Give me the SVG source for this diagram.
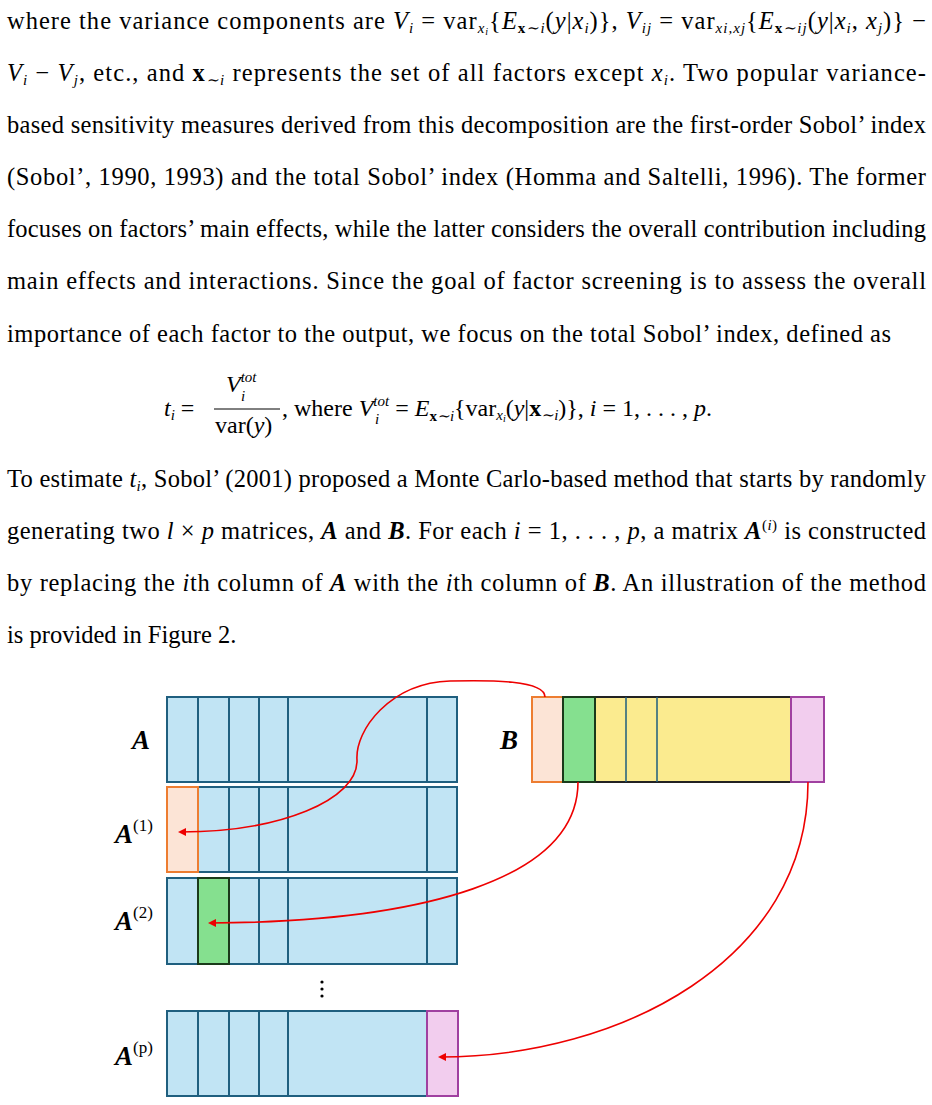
<svg xmlns="http://www.w3.org/2000/svg" width="932" height="1105" viewBox="0 0 932 1105">
<defs>
<style>
.t{font-family:"Liberation Serif",serif;font-size:24.5px;fill:#000}
.e{font-size:24px}
.i{font-style:italic}
.b{font-weight:bold}
.s{font-size:15px}
.bl{fill:#c1e4f4;stroke:#1f5f7f;stroke-width:2}
.ln{stroke:#1f5f7f;stroke-width:2}
.lab{font-family:"Liberation Serif",serif;font-size:27px;font-weight:bold;font-style:italic}
.sup{font-family:"Liberation Serif",serif;font-size:17px}
.arr{fill:none;stroke:#e00;stroke-width:1.6;marker-end:url(#ah)}
</style>
<marker id="ah" markerWidth="8" markerHeight="8" refX="6" refY="4" orient="auto" markerUnits="userSpaceOnUse"><path d="M0,0 L8,4 L0,8 z" fill="#e00"/></marker>
</defs>
<g id="text">
<text class="t" x="7" y="29" textLength="919" lengthAdjust="spacing">where the variance components are <tspan class="i">V</tspan><tspan class="i s" dy="4">i</tspan><tspan dy="-4"> = var</tspan><tspan class="i s" dy="4">x</tspan><tspan class="i" font-size="10" dy="2">i</tspan><tspan dy="-6">{</tspan><tspan class="i">E</tspan><tspan class="s b" dy="4">x</tspan><tspan class="s i">∼i</tspan><tspan dy="-4">(</tspan><tspan class="i">y</tspan><tspan>|</tspan><tspan class="i">x</tspan><tspan class="i s" dy="4">i</tspan><tspan dy="-4">)}, </tspan><tspan class="i">V</tspan><tspan class="i s" dy="4">ij</tspan><tspan dy="-4"> = var</tspan><tspan class="i s" dy="4">xi,xj</tspan><tspan dy="-4">{</tspan><tspan class="i">E</tspan><tspan class="s b" dy="4">x</tspan><tspan class="s i">∼ij</tspan><tspan dy="-4">(</tspan><tspan class="i">y</tspan><tspan>|</tspan><tspan class="i">x</tspan><tspan class="i s" dy="4">i</tspan><tspan dy="-4">, </tspan><tspan class="i">x</tspan><tspan class="i s" dy="4">j</tspan><tspan dy="-4">)} −</tspan></text>
<text class="t" x="7" y="81" textLength="919" lengthAdjust="spacing"><tspan class="i">V</tspan><tspan class="i s" dy="4">i</tspan><tspan dy="-4"> − </tspan><tspan class="i">V</tspan><tspan class="i s" dy="4">j</tspan><tspan dy="-4">, etc., and </tspan><tspan class="b">x</tspan><tspan class="i s" dy="4">∼i</tspan><tspan dy="-4"> represents the set of all factors except </tspan><tspan class="i">x</tspan><tspan class="i s" dy="4">i</tspan><tspan dy="-4">.  Two popular variance-</tspan></text>
<text class="t" x="7" y="133" textLength="919" lengthAdjust="spacing">based sensitivity measures derived from this decomposition are the first-order Sobol’ index</text>
<text class="t" x="7" y="185" textLength="919" lengthAdjust="spacing">(Sobol’, 1990, 1993) and the total Sobol’ index (Homma and Saltelli, 1996).  The former</text>
<text class="t" x="7" y="237" textLength="919" lengthAdjust="spacing">focuses on factors’ main effects, while the latter considers the overall contribution including</text>
<text class="t" x="7" y="289" textLength="919" lengthAdjust="spacing">main effects and interactions.  Since the goal of factor screening is to assess the overall</text>
<text class="t" x="7" y="342" textLength="884" lengthAdjust="spacing">importance of each factor to the output, we focus on the total Sobol’ index, defined as</text>
<text class="t e" x="164" y="416"><tspan class="i">t</tspan><tspan class="i s" dy="4">i</tspan><tspan dy="-4"> =</tspan></text>
<text class="t e" x="226" y="392"><tspan class="i">V</tspan><tspan class="i s" dy="-10">tot</tspan></text>
<text class="t i s" x="241" y="401">i</text>
<line x1="214" y1="409" x2="280" y2="409" stroke="#000" stroke-width="1"/>
<text class="t e" x="215" y="433">var(<tspan class="i">y</tspan>)</text>
<text class="t e" x="282" y="416">,  where <tspan class="i">V</tspan><tspan class="i s" dy="-10">tot</tspan><tspan dy="10"> = </tspan><tspan class="i">E</tspan><tspan class="s b" dy="5">x</tspan><tspan class="s i">∼i</tspan><tspan dy="-5">{var</tspan><tspan class="i s" dy="4">x</tspan><tspan class="i" font-size="10" dy="2">i</tspan><tspan dy="-6">(</tspan><tspan class="i">y</tspan>|<tspan class="b">x</tspan><tspan class="i s" dy="4">∼i</tspan><tspan dy="-4">)},  </tspan><tspan class="i">i</tspan> = 1, . . . , <tspan class="i">p</tspan>.</text>
<text class="t i s" x="375" y="424">i</text>
<text class="t" x="7" y="487" textLength="919" lengthAdjust="spacing">To estimate <tspan class="i">t</tspan><tspan class="i s" dy="4">i</tspan><tspan dy="-4">, Sobol’ (2001) proposed a Monte Carlo-based method that starts by randomly</tspan></text>
<text class="t" x="7" y="539" textLength="919" lengthAdjust="spacing">generating two <tspan class="i">l</tspan> × <tspan class="i">p</tspan> matrices, <tspan class="b i">A</tspan> and <tspan class="b i">B</tspan>. For each <tspan class="i">i</tspan> = 1, . . . , <tspan class="i">p</tspan>, a matrix <tspan class="b i">A</tspan><tspan class="s" dy="-9">(</tspan><tspan class="s i">i</tspan><tspan class="s">)</tspan><tspan dy="9"> is constructed</tspan></text>
<text class="t" x="7" y="591" textLength="919" lengthAdjust="spacing">by replacing the <tspan class="i">i</tspan>th column of <tspan class="b i">A</tspan> with the <tspan class="i">i</tspan>th column of <tspan class="b i">B</tspan>.  An illustration of the method</text>
<text class="t" x="7" y="643">is provided in Figure 2.</text>
</g>
<g id="matA">
<rect class="bl" x="167" y="697" width="290" height="85"/>
<path class="ln" d="M198,697V782M229,697V782M259,697V782M288,697V782M427,697V782"/>
<text class="lab" x="132" y="749">A</text>
</g>
<g id="matA1">
<rect class="bl" x="167" y="787" width="290" height="85"/>
<path class="ln" d="M229,787V872M259,787V872M288,787V872M427,787V872"/>
<rect x="167" y="787" width="31" height="85" fill="#fce4d6" stroke="#ed7d31" stroke-width="2"/>
<text class="lab" x="115" y="843">A<tspan class="sup" font-weight="normal" font-style="normal" dy="-12">(1)</tspan></text>
</g>
<g id="matA2">
<rect class="bl" x="167" y="878" width="290" height="86"/>
<path class="ln" d="M259,878V964M288,878V964M427,878V964"/>
<rect x="198" y="878" width="31" height="86" fill="#85e08f" stroke="#1a3a1a" stroke-width="2"/>
<text class="lab" x="115" y="930">A<tspan class="sup" font-weight="normal" font-style="normal" dy="-12">(2)</tspan></text>
</g>
<g id="dots">
<circle cx="322" cy="982" r="1.6"/><circle cx="322" cy="989" r="1.6"/><circle cx="322" cy="996" r="1.6"/>
</g>
<g id="matAp">
<rect class="bl" x="167" y="1011" width="290" height="85"/>
<path class="ln" d="M198,1011V1096M229,1011V1096M259,1011V1096M288,1011V1096"/>
<rect x="427" y="1011" width="31" height="85" fill="#f2cdee" stroke="#a040a0" stroke-width="2"/>
<text class="lab" x="115" y="1065">A<tspan class="sup" font-weight="normal" font-style="normal" dy="-12">(p)</tspan></text>
</g>
<g id="matB">
<rect x="595" y="697" width="196" height="85" fill="#fbeb8f" stroke="#222" stroke-width="2"/>
<path d="M626,697V782M657,697V782" stroke="#1f5f7f" stroke-width="1.5"/>
<rect x="532" y="697" width="31" height="85" fill="#fce4d6" stroke="#ed7d31" stroke-width="2"/>
<rect x="563" y="697" width="32" height="85" fill="#85e08f" stroke="#1a3a1a" stroke-width="2"/>
<rect x="791" y="697" width="33" height="85" fill="#f2cdee" stroke="#a040a0" stroke-width="2"/>
<text class="lab" x="500" y="749">B</text>
</g>
<g id="connectors">
<path class="arr" d="M545,697 C545,680 490,680 450,681 C390,683 355,730 357,760 C358,800 280,832 180,832"/>
<path class="arr" d="M578,782 C578,880 420,922 210,923"/>
<path class="arr" d="M808,782 C808,960 620,1057 440,1057"/>
</g>
</svg>
